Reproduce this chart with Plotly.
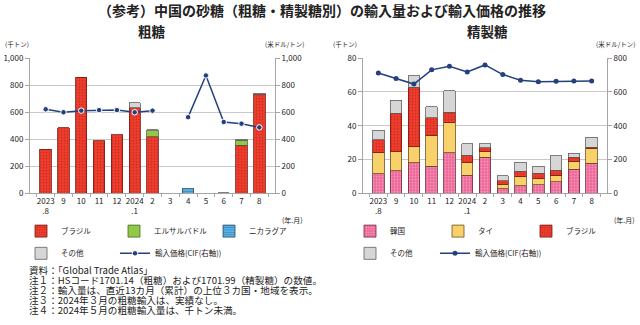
import plotly.graph_objects as go

# ---------------- data ----------------
months = ["2023<br>.8", "9", "10", "11", "12", "2024<br>.1", "2", "3", "4", "5", "6", "7", "8"]

# 粗糖 (千トン)
raw_brazil = [326, 486, 860, 390, 435, 632, 420, None, None, None, None, 358, 735]
raw_elsalvador = [None, None, None, None, None, None, 44, None, None, None, None, 36, None]
raw_nicaragua = [None, None, None, None, None, None, None, None, 34, None, None, None, None]
raw_other = [None, None, None, None, None, 38, 5, None, None, 1, 6, 5, 4]
raw_price = [622, 600, 612, 616, 616, 600, 612, None, 564, 872, 528, 516, 488]

# 精製糖 (千トン)
ref_korea = [11.5, 13.3, 18.1, 16.0, 24.2, 10.7, 21.3, 2.7, 4.6, 5.1, 7.0, 14.3, 18.0]
ref_thai = [12.7, 11.3, 9.4, 18.1, 17.9, 7.6, 3.3, 2.8, 5.3, 3.6, 3.9, 4.7, 8.7]
ref_brazil = [7.6, 22.8, 35.3, 10.6, 5.9, 4.4, 2.4, 1.9, 3.2, 3.1, 2.8, 2.3, 0.6]
ref_other = [5.7, 7.6, 6.8, 6.6, 12.7, 6.6, 2.3, 3.1, 5.4, 4.2, 8.6, 2.5, 6.0]
ref_price = [712, 680, 647, 731, 752, 718, 760, 703, 670, 661, 663, 665, 665]

title_text = "（参考）中国の砂糖（粗糖・精製糖別）の輸入量および輸入価格の推移"
notes = [
    "資料：「Global Trade Atlas」",
    "注１：HSコード1701.14（粗糖）および1701.99（精製糖）の数値。",
    "注２：輸入量は、直近13カ月（累計）の上位３カ国・地域を表示。",
    "注３：2024年３月の粗糖輸入は、実績なし。",
    "注４：2024年５月の粗糖輸入量は、千トン未満。",
]

# ---------------- styling ----------------
W, H = 640, 325
FONT = "Noto Sans CJK JP, Noto Sans, sans-serif"
TXT = "#222222"
AXC = "#A6A6A6"
GRID = "#C8C8C8"

def px(x):
    return x / W

def py(y):
    return 1 - y / H

BRAZIL = dict(color="#EE3A2C", line=dict(color="#7A1A10", width=0.8),
              pattern=dict(shape=".", fgcolor="#B01818", bgcolor="#F0402E", size=3, solidity=0.35))
KOREA = dict(color="#EE6C9C", line=dict(color="#6A2A40", width=0.8),
             pattern=dict(shape=".", fgcolor="#FFD0E0", bgcolor="#EC6496", size=3, solidity=0.35))
THAI = dict(color="#F8D16A", line=dict(color="#6A5020", width=0.8))
ELSAL = dict(color="#92C847", line=dict(color="#4A6A20", width=0.8))
NICA = dict(color="#4FA8DA", line=dict(color="#2A4A6A", width=0.8),
            pattern=dict(shape="-", fgcolor="#1E5F96", bgcolor="#5AB2E2", size=3, solidity=0.3))
OTHER = dict(color="#D6D6D6", line=dict(color="#606060", width=0.8))
LINEC = "#24407E"

fig = go.Figure()

def legend_name(i):
    return "legend" if i == 1 else f"legend{i}"

# left chart
fig.add_bar(x=months, y=raw_brazil, name="ブラジル", marker=BRAZIL, xaxis="x", yaxis="y", legend=legend_name(1))
fig.add_bar(x=months, y=raw_elsalvador, name="エルサルバドル", marker=ELSAL, xaxis="x", yaxis="y", legend=legend_name(2))
fig.add_bar(x=months, y=raw_nicaragua, name="ニカラグア", marker=NICA, xaxis="x", yaxis="y", legend=legend_name(3))
fig.add_bar(x=months, y=raw_other, name="その他", marker=OTHER, xaxis="x", yaxis="y", legend=legend_name(4))
fig.add_scatter(x=months, y=raw_price, name="輸入価格(CIF(右軸))", mode="lines+markers",
                line=dict(color=LINEC, width=1.5),
                marker=dict(size=5.5, color=LINEC, line=dict(color="white", width=1)),
                connectgaps=False, xaxis="x", yaxis="y2", legend=legend_name(5))

# right chart
fig.add_bar(x=months, y=ref_korea, name="韓国", marker=KOREA, xaxis="x2", yaxis="y3", legend=legend_name(6))
fig.add_bar(x=months, y=ref_thai, name="タイ", marker=THAI, xaxis="x2", yaxis="y3", legend=legend_name(7))
fig.add_bar(x=months, y=ref_brazil, name="ブラジル", marker=BRAZIL, xaxis="x2", yaxis="y3", legend=legend_name(8))
fig.add_bar(x=months, y=ref_other, name="その他", marker=OTHER, xaxis="x2", yaxis="y3", legend=legend_name(9))
fig.add_scatter(x=months, y=ref_price, name="輸入価格(CIF(右軸))", mode="lines+markers",
                line=dict(color=LINEC, width=1.5),
                marker=dict(size=5, color=LINEC),
                xaxis="x2", yaxis="y4", legend=legend_name(10))

ydom = [py(194), py(54)]

def xax(dom, anchor):
    return dict(domain=dom, anchor=anchor, type="category", categoryorder="array", categoryarray=months,
                showline=True, linecolor=AXC, linewidth=1, ticks="outside", tickson="boundaries",
                ticklen=3, tickcolor=AXC, showgrid=False, tickangle=0,
                tickfont=dict(size=8, color=TXT, family=FONT), fixedrange=True)

def yax(dom, anchor, rng, dtick, side="left", overlaying=None, grid=True, fmt=","):
    d = dict(domain=dom, anchor=anchor, range=rng, dtick=dtick, side=side, showline=True, linecolor=AXC,
             linewidth=1, ticks="outside", ticklen=4, tickcolor=AXC, showgrid=grid, gridcolor=GRID,
             gridwidth=1, zeroline=False, tickformat=fmt, tickfont=dict(size=8, color=TXT, family=FONT),
             fixedrange=True)
    if overlaying:
        d["overlaying"] = overlaying
    return d

layout = dict(
    width=W, height=H, margin=dict(l=0, r=0, t=0, b=0),
    paper_bgcolor="white", plot_bgcolor="rgba(0,0,0,0)",
    barmode="stack", bargap=0.36, showlegend=True,
    font=dict(family=FONT, color=TXT),
    xaxis=xax([px(30), px(275)], "y"),
    yaxis=yax(ydom, "x", [0, 1000], 200),
    yaxis2=yax(ydom, "x", [0, 1000], 200, side="right", overlaying="y", grid=False),
    xaxis2=xax([px(363), px(607)], "y3"),
    yaxis3=yax(ydom, "x2", [0, 80], 20),
    yaxis4=yax(ydom, "x2", [0, 800], 200, side="right", overlaying="y3", grid=False),
)

# legends, one per entry, placed like the reference
leg_pos = {
    1: (21, 233), 2: (114, 233), 3: (209, 233), 4: (21, 256), 5: (115, 256),
    6: (350, 233), 7: (438, 233), 8: (526, 233), 9: (350, 256), 10: (435, 256),
}
for i, (lx, ly) in leg_pos.items():
    layout[legend_name(i)] = dict(x=px(lx), y=py(ly), xanchor="left", yanchor="middle",
                                  orientation="h", bgcolor="rgba(0,0,0,0)", borderwidth=0,
                                  font=dict(size=7.5, color=TXT, family=FONT),
                                  itemclick=False, itemdoubleclick=False)

fig.update_layout(**layout)

ann = []
def add_text(t, x, y, size, xanchor="center", yanchor="middle", bold=False):
    ann.append(dict(text=(f"<b>{t}</b>" if bold else t), x=px(x), y=py(y), xref="paper", yref="paper",
                    xanchor=xanchor, yanchor=yanchor, showarrow=False, align="left",
                    font=dict(size=size, color=TXT, family=FONT)))

add_text(title_text, 322, 4, 14, bold=True)
add_text("粗糖", 152, 26, 13.5, bold=True)
add_text("精製糖", 487, 26, 13.5, bold=True)
add_text("(千トン)", 17, 39, 6.5)
add_text("(米ドル/トン)", 284, 39, 6.5)
add_text("(千トン)", 345, 39, 6.5)
add_text("(米ドル/トン)", 615, 39, 6.5)
add_text("(年.月)", 292, 221, 7)
add_text("(年.月)", 624, 221, 7)

# notes: one block; small base size keeps the tight line pitch, spans give the glyph size
notes_html = "<br>".join(f'<span style="font-size:9.6px">{t}</span>' for t in notes)
add_text(notes_html, 27, 294, 7.6, xanchor="left")

fig.update_layout(annotations=ann)
fig.write_html("out.html")
